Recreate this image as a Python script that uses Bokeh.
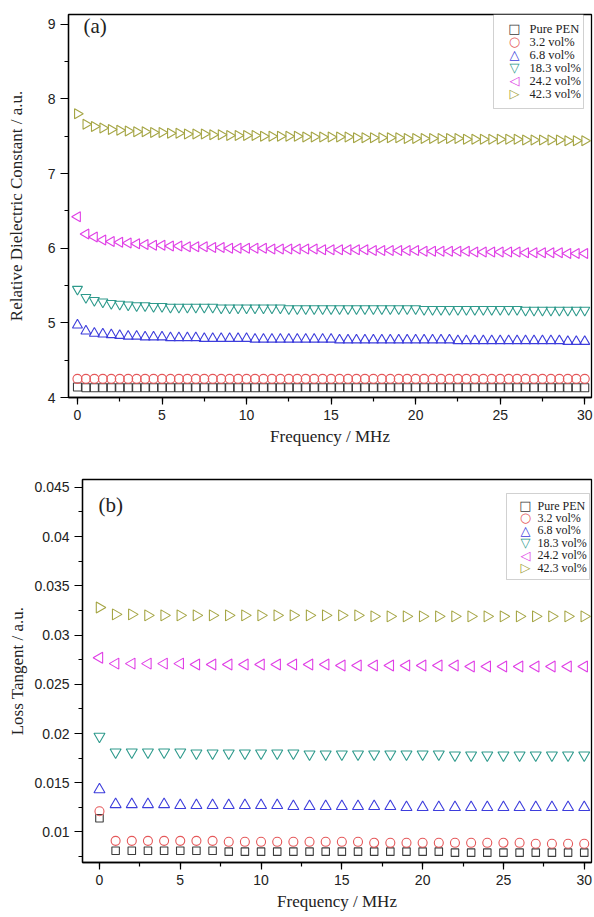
from bokeh.plotting import figure
from bokeh.models import Range1d, Label, SingleIntervalTicker, BoxAnnotation
from bokeh.embed import file_html
from bokeh.resources import INLINE

# ---------------- data: panel (a) ----------------
freq_a = [0, 0.5, 1, 1.5, 2, 2.5, 3, 3.5, 4, 4.5, 5, 5.5, 6, 6.5, 7, 7.5, 8, 8.5, 9, 9.5,
          10, 10.5, 11, 11.5, 12, 12.5, 13, 13.5, 14, 14.5, 15, 15.5, 16, 16.5, 17, 17.5,
          18, 18.5, 19, 19.5, 20, 20.5, 21, 21.5, 22, 22.5, 23, 23.5, 24, 24.5, 25, 25.5,
          26, 26.5, 27, 27.5, 28, 28.5, 29, 29.5, 30]

pen_a = [4.14, 4.13, 4.13, 4.13, 4.13, 4.13, 4.13, 4.13, 4.13, 4.13, 4.13, 4.13, 4.13, 4.13,
         4.13, 4.13, 4.13, 4.13, 4.13, 4.13, 4.13, 4.13, 4.13, 4.13, 4.13, 4.13, 4.13, 4.13,
         4.13, 4.13, 4.13, 4.13, 4.13, 4.13, 4.13, 4.13, 4.13, 4.13, 4.13, 4.13, 4.13, 4.13,
         4.13, 4.13, 4.13, 4.13, 4.13, 4.13, 4.13, 4.13, 4.13, 4.13, 4.13, 4.13, 4.13, 4.13,
         4.13, 4.13, 4.13, 4.13, 4.13]

v32_a = [4.25, 4.25, 4.25, 4.25, 4.25, 4.25, 4.25, 4.25, 4.25, 4.25, 4.25, 4.25, 4.25, 4.25,
         4.25, 4.25, 4.25, 4.25, 4.25, 4.25, 4.25, 4.25, 4.25, 4.25, 4.25, 4.25, 4.25, 4.25,
         4.25, 4.25, 4.25, 4.25, 4.25, 4.25, 4.25, 4.25, 4.25, 4.25, 4.25, 4.25, 4.25, 4.25,
         4.25, 4.25, 4.25, 4.25, 4.25, 4.25, 4.25, 4.25, 4.25, 4.25, 4.25, 4.25, 4.25, 4.25,
         4.25, 4.25, 4.25, 4.25, 4.25]

v68_a = [4.97, 4.89, 4.86, 4.85, 4.84, 4.83, 4.82, 4.82, 4.81, 4.81, 4.81, 4.80, 4.80, 4.80,
         4.80, 4.79, 4.79, 4.79, 4.79, 4.79, 4.79, 4.78, 4.78, 4.78, 4.78, 4.78, 4.78, 4.78,
         4.78, 4.78, 4.78, 4.77, 4.77, 4.77, 4.77, 4.77, 4.77, 4.77, 4.77, 4.77, 4.77, 4.77,
         4.77, 4.77, 4.77, 4.76, 4.76, 4.76, 4.76, 4.76, 4.76, 4.76, 4.76, 4.76, 4.76, 4.76,
         4.76, 4.76, 4.75, 4.75, 4.75]

v183_a = [5.45, 5.34, 5.30, 5.28, 5.26, 5.25, 5.24, 5.23, 5.23, 5.22, 5.22, 5.21, 5.21, 5.21,
          5.21, 5.21, 5.21, 5.20, 5.20, 5.20, 5.20, 5.20, 5.20, 5.20, 5.20, 5.19, 5.19, 5.19,
          5.19, 5.19, 5.19, 5.19, 5.19, 5.19, 5.19, 5.19, 5.19, 5.19, 5.19, 5.19, 5.19, 5.18,
          5.18, 5.18, 5.18, 5.18, 5.18, 5.18, 5.18, 5.18, 5.18, 5.18, 5.18, 5.17, 5.17, 5.17,
          5.17, 5.17, 5.17, 5.17, 5.17]

v242_a = [6.42, 6.19, 6.15, 6.11, 6.09, 6.08, 6.07, 6.06, 6.05, 6.04, 6.04, 6.03, 6.03, 6.02,
          6.02, 6.02, 6.01, 6.01, 6.00, 6.00, 6.00, 6.00, 6.00, 5.99, 5.99, 5.99, 5.99, 5.99,
          5.99, 5.98, 5.98, 5.98, 5.98, 5.98, 5.98, 5.97, 5.97, 5.97, 5.97, 5.97, 5.97, 5.96,
          5.96, 5.96, 5.96, 5.96, 5.96, 5.95, 5.95, 5.95, 5.95, 5.95, 5.95, 5.94, 5.94, 5.94,
          5.94, 5.94, 5.93, 5.93, 5.93]

v423_a = [7.80, 7.66, 7.63, 7.61, 7.59, 7.58, 7.57, 7.56, 7.56, 7.55, 7.55, 7.54, 7.54, 7.53,
          7.53, 7.53, 7.52, 7.52, 7.51, 7.51, 7.51, 7.51, 7.50, 7.50, 7.50, 7.50, 7.50, 7.49,
          7.49, 7.49, 7.49, 7.49, 7.49, 7.48, 7.48, 7.48, 7.48, 7.48, 7.48, 7.47, 7.47, 7.47,
          7.47, 7.47, 7.47, 7.47, 7.46, 7.46, 7.46, 7.46, 7.46, 7.46, 7.46, 7.45, 7.45, 7.45,
          7.45, 7.45, 7.44, 7.44, 7.44]

# ---------------- data: panel (b) ----------------
freq_b = [0, 1, 2, 3, 4, 5, 6, 7, 8, 9, 10, 11, 12, 13, 14, 15, 16, 17, 18, 19, 20,
          21, 22, 23, 24, 25, 26, 27, 28, 29, 30]

pen_b = [0.0114, 0.0081, 0.0081, 0.0081, 0.0081, 0.0081, 0.0081, 0.0081, 0.0080, 0.0080,
         0.0080, 0.0080, 0.0080, 0.0080, 0.0080, 0.0080, 0.0080, 0.0080, 0.0080, 0.0080,
         0.0080, 0.0080, 0.0079, 0.0079, 0.0079, 0.0079, 0.0079, 0.0079, 0.0079, 0.0079,
         0.0079]

v32_b = [0.0121, 0.0091, 0.0091, 0.0091, 0.0091, 0.0091, 0.0091, 0.0091, 0.0090, 0.0090,
         0.0090, 0.0090, 0.0090, 0.0090, 0.0090, 0.0090, 0.0090, 0.0089, 0.0089, 0.0089,
         0.0089, 0.0089, 0.0089, 0.0089, 0.0089, 0.0089, 0.0089, 0.0088, 0.0088, 0.0088,
         0.0088]

v68_b = [0.0143, 0.0128, 0.0128, 0.0128, 0.0128, 0.0127, 0.0127, 0.0127, 0.0127, 0.0127,
         0.0127, 0.0127, 0.0126, 0.0126, 0.0126, 0.0126, 0.0126, 0.0126, 0.0126, 0.0125,
         0.0125, 0.0125, 0.0125, 0.0125, 0.0125, 0.0125, 0.0125, 0.0125, 0.0125, 0.0125,
         0.0125]

v183_b = [0.0197, 0.0181, 0.0181, 0.0181, 0.0181, 0.0181, 0.0180, 0.0180, 0.0180, 0.0180,
          0.0180, 0.0180, 0.0180, 0.0179, 0.0179, 0.0179, 0.0179, 0.0179, 0.0179, 0.0179,
          0.0179, 0.0179, 0.0178, 0.0178, 0.0178, 0.0178, 0.0178, 0.0178, 0.0178, 0.0178,
          0.0178]

v242_b = [0.0277, 0.0271, 0.0271, 0.0271, 0.0271, 0.0271, 0.0270, 0.0270, 0.0270, 0.0270,
          0.0270, 0.0270, 0.0270, 0.0270, 0.0270, 0.0269, 0.0269, 0.0269, 0.0269, 0.0269,
          0.0269, 0.0269, 0.0269, 0.0268, 0.0268, 0.0268, 0.0268, 0.0268, 0.0268, 0.0268,
          0.0268]

v423_b = [0.0328, 0.0321, 0.0321, 0.0320, 0.0320, 0.0320, 0.0320, 0.0320, 0.0320, 0.0320,
          0.0320, 0.0320, 0.0320, 0.0320, 0.0320, 0.0320, 0.0320, 0.0319, 0.0319, 0.0319,
          0.0319, 0.0319, 0.0319, 0.0319, 0.0319, 0.0319, 0.0319, 0.0319, 0.0319, 0.0319,
          0.0319]

labels = ["Pure PEN", "3.2 vol%", "6.8 vol%", "18.3 vol%", "24.2 vol%", "42.3 vol%"]
legend_symbols = ["\u25a1", "\u25cb", "\u25b3", "\u25bd", "\u25c1", "\u25b7"]
colors = ["#3c3c3c", "#e5585a", "#3d3ddc", "#2e9a8c", "#e03fe6", "#a5a544"]

SERIF = "Liberation Serif"
SANS = "Liberation Sans"
HALF_PI = 1.5707963


def style(p, xlabel, ylabel, ystep, title_standoff_y, title_standoff_x):
    p.xgrid.visible = False
    p.ygrid.visible = False
    p.outline_line_color = "black"
    p.outline_line_width = 1.3
    p.background_fill_color = "white"
    p.border_fill_color = "white"
    p.xaxis.ticker = SingleIntervalTicker(interval=5, num_minor_ticks=2)
    p.yaxis.ticker = SingleIntervalTicker(interval=ystep, num_minor_ticks=2)
    for ax in (p.xaxis[0], p.yaxis[0]):
        ax.axis_line_color = "black"
        ax.axis_line_width = 1.3
        ax.major_tick_line_color = "black"
        ax.minor_tick_line_color = "black"
        ax.major_tick_line_width = 1.2
        ax.minor_tick_line_width = 1.2
        ax.major_tick_in = 0
        ax.minor_tick_in = 0
        ax.major_label_text_font = SANS
        ax.major_label_text_font_size = "14px"
        ax.major_label_text_color = "#222222"
        ax.major_label_standoff = 5
        ax.axis_label_text_font = SERIF
        ax.axis_label_text_font_size = "17px"
        ax.axis_label_text_font_style = "normal"
        ax.axis_label_text_color = "#222222"
    p.yaxis.major_tick_out = 8
    p.yaxis.minor_tick_out = 4
    p.xaxis.major_tick_out = 7
    p.xaxis.minor_tick_out = 4
    p.xaxis.axis_label = xlabel
    p.yaxis.axis_label = ylabel
    p.xaxis.axis_label_standoff = title_standoff_x
    p.yaxis.axis_label_standoff = title_standoff_y


def add_series(p, x, ys, sizes):
    s_sq, s_ci, s_tr = sizes
    p.scatter(x, ys[0], marker="square", size=s_sq, fill_color=None,
              line_color=colors[0], line_width=1.1)
    p.scatter(x, ys[1], marker="circle", size=s_ci, fill_color=None,
              line_color=colors[1], line_width=1.1)
    p.scatter(x, ys[2], marker="triangle", size=s_tr, fill_color=None,
              line_color=colors[2], line_width=1.1)
    p.scatter(x, ys[3], marker="inverted_triangle", size=s_tr, fill_color=None,
              line_color=colors[3], line_width=1.1)
    p.scatter(x, ys[4], marker="triangle", angle=HALF_PI, size=s_tr, fill_color=None,
              line_color=colors[4], line_width=1.1)
    p.scatter(x, ys[5], marker="triangle", angle=-HALF_PI, size=s_tr, fill_color=None,
              line_color=colors[5], line_width=1.1)


def manual_legend(p, box, mk_x, tx_x, row0, row_h, fsize):
    left, right, top, bottom = box
    p.add_layout(BoxAnnotation(left=left, right=right, top=top, bottom=bottom,
                               left_units="screen", right_units="screen",
                               top_units="screen", bottom_units="screen",
                               fill_color="white", fill_alpha=1.0,
                               line_color="#666666", line_width=1, level="annotation"))
    for i, (sym, lab, col) in enumerate(zip(legend_symbols, labels, colors)):
        y = row0 - i * row_h
        p.add_layout(Label(x=mk_x, y=y, x_units="screen", y_units="screen", text=sym,
                           text_font="DejaVu Sans", text_font_size="13px",
                           text_color=col, text_align="center", text_baseline="middle",
                           level="overlay"))
        p.add_layout(Label(x=tx_x, y=y, x_units="screen", y_units="screen", text=lab,
                           text_font=SERIF, text_font_size=fsize,
                           text_color="#222222", text_align="left",
                           text_baseline="middle", level="overlay"))


# ---------------- panel (a) ----------------
p1 = figure(frame_width=523, frame_height=383, output_backend="svg", toolbar_location=None,
            x_range=Range1d(-0.53, 30.4), y_range=Range1d(4, 9.13),
            min_border_left=68, min_border_right=2, min_border_top=14, min_border_bottom=65)
style(p1, "Frequency / MHz", "Relative Dielectric Constant / a.u.", 1, 19, 4)
add_series(p1, freq_a, [pen_a, v32_a, v68_a, v183_a, v242_a, v423_a], (8, 9, 10))
manual_legend(p1, (425, 515, 383, 289), 446, 461, 369, 13, "12.5px")
p1.add_layout(Label(x=15, y=372, x_units="screen", y_units="screen", text="(a)",
                    text_font=SERIF, text_font_size="21px", text_baseline="middle",
                    text_color="#222222"))

# ---------------- panel (b) ----------------
p2 = figure(frame_width=509, frame_height=383, output_backend="svg", toolbar_location=None,
            x_range=Range1d(-1.05, 30.45), y_range=Range1d(0.0069, 0.0458),
            min_border_left=82, min_border_right=2, min_border_top=17, min_border_bottom=54)
style(p2, "Frequency / MHz", "Loss Tangent / a.u.", 0.005, 4, 4)
add_series(p2, freq_b, [pen_b, v32_b, v68_b, v183_b, v242_b, v423_b], (7.5, 9, 11))
manual_legend(p2, (424, 507, 369, 283), 443, 455, 357, 12.4, "12px")
p2.add_layout(Label(x=16, y=358, x_units="screen", y_units="screen", text="(b)",
                    text_font=SERIF, text_font_size="21px", text_baseline="middle",
                    text_color="#222222"))

open("out.html", "w").write(file_html([p1, p2], INLINE))
